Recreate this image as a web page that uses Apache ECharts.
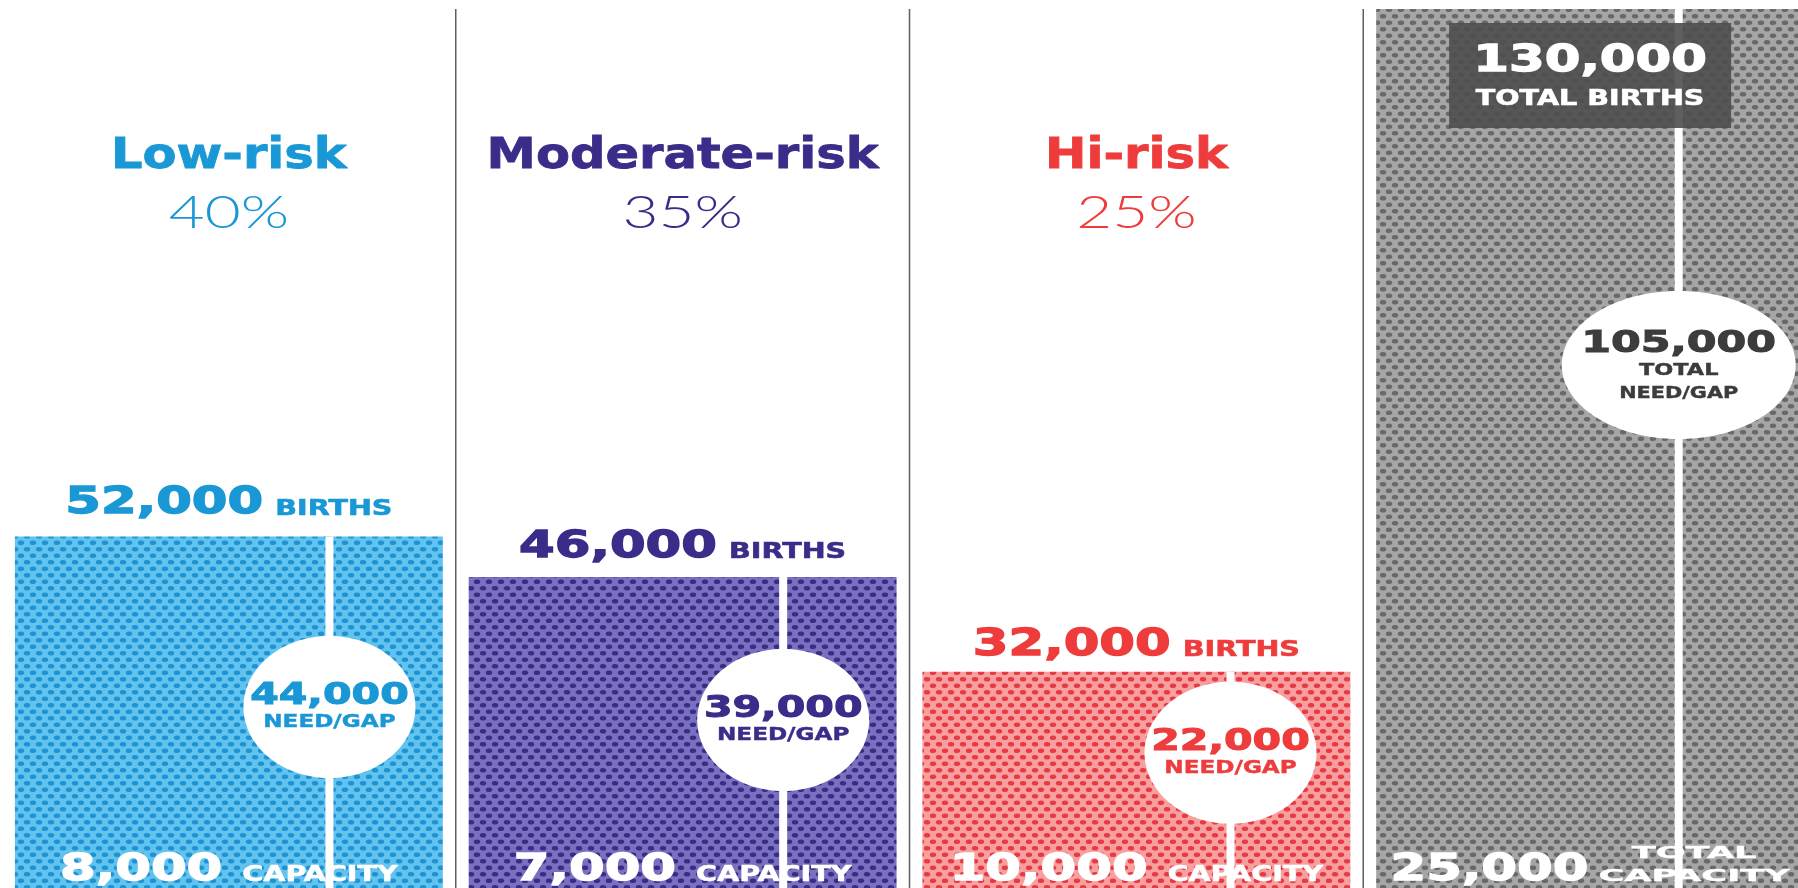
<!DOCTYPE html>
<html><head><meta charset="utf-8">
<script src="https://cdn.jsdelivr.net/npm/echarts@6/dist/echarts.min.js"></script>
<style>html,body{margin:0;padding:0;background:#fff;overflow:hidden}#c{width:1822px;height:888px}</style>
</head><body><div id="c"></div>
<script>
// ---------- data ----------
const categories = ['Low-risk', 'Moderate-risk', 'Hi-risk', 'Total'];
const shares = ['40%', '35%', '25%', ''];
const births = [52000, 46000, 32000, 130000];
const capacity = [8000, 7000, 10000, 25000];
const needGap = [44000, 39000, 22000, 105000];

// ---------- styles ----------
const textColors = ['#1a98d5', '#3a2c89', '#ee3b3b', '#3c3c3c'];
const bgColors = ['#62c3ee', '#7a70c0', '#f8a0a0', '#a6a6a6'];
const dotColors = ['#1e93d3', '#382d85', '#e63a44', '#686868'];
const bubbleFrac = [0.485, 0.46, 0.375, 0.405];
const lineFrac = [0.735, 0.735, 0.72, 0.707];
const birthsLabelLift = [33, 30, 27, 0];
const FB = 'DejaVu Sans';

function makePattern(bg, dot) {
  const c = document.createElement('canvas'); c.width = 12; c.height = 13;
  const g = c.getContext('2d');
  g.fillStyle = bg; g.fillRect(0, 0, 12, 13);
  g.fillStyle = dot;
  [[3, 3.25], [15, 3.25], [-9, 3.25], [9, 9.75], [-3, 9.75], [21, 9.75]].forEach(p => {
    g.beginPath(); g.ellipse(p[0], p[1], 3.2, 2.3, 0, 0, Math.PI * 2); g.fill();
  });
  return c;
}
const patterns = bgColors.map((b, i) => ({ image: makePattern(b, dotColors[i]), repeat: 'repeat' }));

const mctx = document.createElement('canvas').getContext('2d');
function tw(text, size, weight, family) {
  mctx.font = weight + ' ' + size + 'px "' + family + '"';
  return mctx.measureText(text).width;
}
function fmt(v) { return v.toLocaleString('en-US'); }
function txt(x, y, text, size, color, opt) {
  opt = opt || {};
  const st = {
    text: text, fill: color, fontSize: size, fontFamily: opt.family || FB,
    fontWeight: opt.weight || 'bold', align: opt.align || 'center', verticalAlign: 'middle'
  };
  if (opt.thick) { st.stroke = color; st.lineWidth = opt.thick; }
  return { type: 'text', x: x, y: y, scaleX: opt.sx || 1, scaleY: opt.sy || 1, style: st };
}
const NS = 38, NX = 1.35, US = 22, UX = 1.3;
function pair(cx, yMid, num, unit, color, gapPx) {
  const wn = tw(num, NS, 'bold', FB) * NX, wu = tw(unit, US, 'bold', FB) * UX;
  const left = cx - (wn + gapPx + wu) / 2;
  return [
    txt(left, yMid, num, NS, color, { sx: NX, align: 'left', thick: 1.3 }),
    txt(left + wn + gapPx, yMid + 0.346 * (NS - US), unit, US, color, { sx: UX, align: 'left', thick: 0.6 })
  ];
}

function renderItem(params, api) {
  const i = api.value(0);
  const b = api.value(1), cap = api.value(2), g = api.value(3);
  const top = api.coord([i, b]);
  const bot = api.coord([i, 0]);
  const band = api.size([1, 0])[0];
  const w = band * 0.943;
  const cx = top[0];
  const x0 = cx - w / 2;
  const h = bot[1] - top[1];
  const cs = params.coordSys;
  const col = textColors[i];
  const ch = [];
  if (i > 0) {
    const dx = cx - band / 2;
    ch.push({ type: 'line', shape: { x1: dx, y1: cs.y, x2: dx, y2: cs.y + cs.height }, style: { stroke: '#5e5e5e', lineWidth: 1.5 } });
  }
  ch.push({ type: 'rect', shape: { x: x0, y: top[1], width: w, height: h }, style: { fill: patterns[i] } });
  const lx = x0 + w * lineFrac[i];
  ch.push({ type: 'rect', shape: { x: lx - 4, y: top[1], width: 8, height: h }, style: { fill: '#ffffff' } });
  const cy = top[1] + h * bubbleFrac[i];
  const isTotal = i === 3;
  ch.push({ type: 'ellipse', shape: { cx: lx, cy: cy, rx: isTotal ? 117 : 86, ry: isTotal ? 74 : 71 }, style: { fill: '#ffffff' } });
  if (!isTotal) {
    ch.push(txt(lx, cy - 11, fmt(g), 30, col, { sx: 1.37, thick: 1 }));
    ch.push(txt(lx, cy + 16, 'NEED/GAP', 17, col, { sx: 1.36, thick: 0.4 }));
    // header
    ch.push(txt(cx, 157, categories[i], 42, col, { sx: 1.18, thick: 0.8 }));
    ch.push(txt(cx, 213, shares[i], 46, col, { sx: 1.35, family: 'Lato', weight: 300 }));
    // births above bar
    pair(cx, top[1] - birthsLabelLift[i], fmt(b), 'BIRTHS', col, 12).forEach(e => ch.push(e));
    // capacity at bottom
    pair(cx, bot[1] - 18, fmt(cap), 'CAPACITY', '#ffffff', 20).forEach(e => ch.push(e));
  } else {
    ch.push(txt(lx, cy - 21, fmt(g), 31, col, { sx: 1.38, thick: 1 }));
    ch.push(txt(lx, cy + 6, 'TOTAL', 16, col, { sx: 1.4, thick: 0.4 }));
    ch.push(txt(lx, cy + 29, 'NEED/GAP', 16, col, { sx: 1.3, thick: 0.4 }));
    ch.push({ type: 'rect', shape: { x: cx - 141, y: top[1] + 14, width: 282, height: 105 }, style: { fill: 'rgba(78,78,78,0.9)' } });
    ch.push(txt(cx, top[1] + 52, fmt(b), NS, '#ffffff', { sx: NX, thick: 1.3 }));
    ch.push(txt(cx, top[1] + 90, 'TOTAL BIRTHS', US, '#ffffff', { sx: UX, thick: 0.6 }));
    // total capacity
    const num = fmt(cap);
    const SX2 = 1.6;
    const wn = tw(num, NS, 'bold', FB) * NX;
    const ws = tw('CAPACITY', US, 'bold', FB) * SX2;
    const gapPx = 10;
    const left = cx - (wn + gapPx + ws) / 2;
    const yMid = bot[1] - 18;
    ch.push(txt(left, yMid, num, NS, '#ffffff', { sx: NX, align: 'left', thick: 1.3 }));
    const sc = left + wn + gapPx + ws / 2;
    ch.push(txt(sc, yMid - 16, 'TOTAL', US, '#ffffff', { sx: SX2, sy: 0.72, thick: 0.5 }));
    ch.push(txt(sc, yMid + 7, 'CAPACITY', US, '#ffffff', { sx: SX2, sy: 0.72, thick: 0.5 }));
  }
  return { type: 'group', children: ch };
}

const chart = echarts.init(document.getElementById('c'), null, { renderer: 'canvas' });
chart.setOption({
  animation: false,
  backgroundColor: '#ffffff',
  grid: { left: 2, top: 9, width: 1815, height: 879 },
  xAxis: { type: 'category', data: categories, show: false },
  yAxis: { type: 'value', min: 0, max: 130000, show: false },
  series: [{
    type: 'custom',
    clip: false,
    renderItem: renderItem,
    encode: { x: 0, y: 1 },
    data: categories.map((c, i) => [i, births[i], capacity[i], needGap[i]])
  }]
});
</script>
</body></html>
